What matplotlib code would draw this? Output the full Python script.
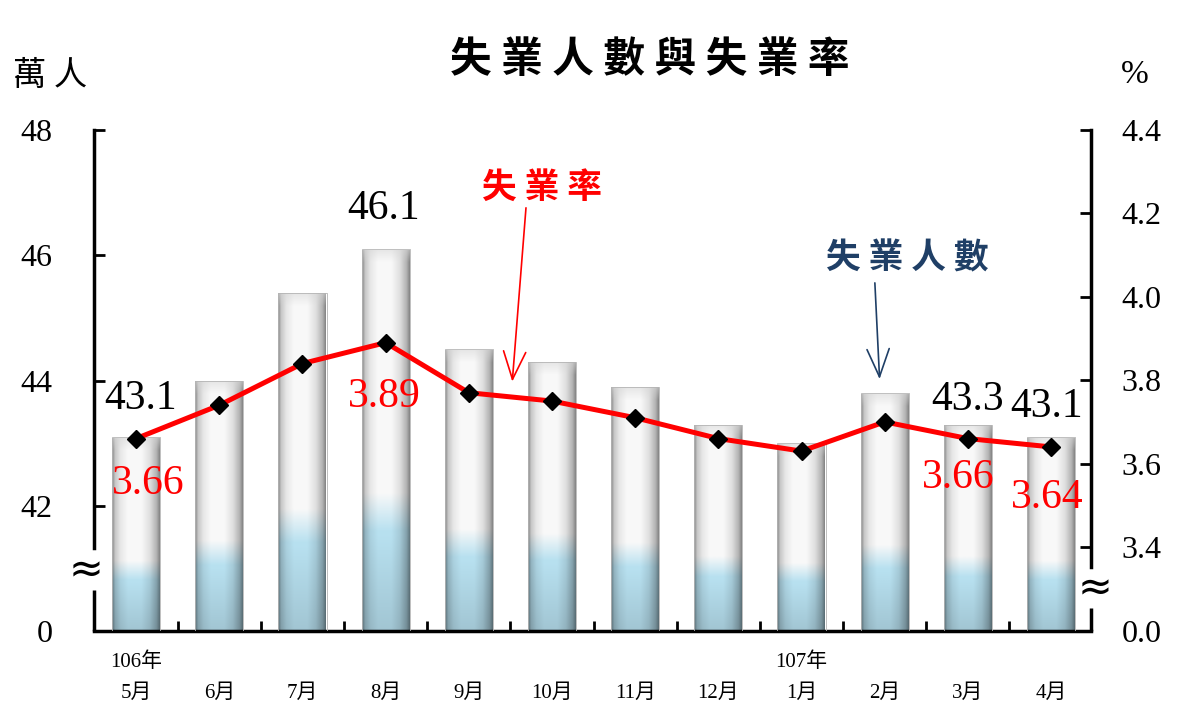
import numpy as np
import matplotlib
matplotlib.use("Agg")
import matplotlib.pyplot as plt
import matplotlib.transforms as mtransforms

plt.rcParams['font.family'] = ['Liberation Serif', 'Noto Sans CJK TC']

# data
months = ['5月', '6月', '7月', '8月', '9月', '10月', '11月', '12月',
          '1月', '2月', '3月', '4月']
unemployed = [43.1, 44.0, 45.4, 46.1, 44.5, 44.3, 43.9, 43.3, 43.0, 43.8, 43.3, 43.1]
rate = [3.66, 3.74, 3.84, 3.89, 3.77, 3.75, 3.71, 3.66, 3.63, 3.70, 3.66, 3.64]
left_ticks = [0, 42, 44, 46, 48]
right_ticks = [0.0, 3.4, 3.6, 3.8, 4.0, 4.2, 4.4]
year_labels = {0: '106年', 8: '107年'}
bar_labels = {0: '43.1', 3: '46.1', 10: '43.3', 11: '43.1'}
rate_labels = {0: '3.66', 3: '3.89', 10: '3.66', 11: '3.64'}

CJK = ['Noto Sans CJK TC', 'DejaVu Sans']

# broken axes: piecewise linear scales (break below 42 / 3.4)
L_V = [-1000, 0, 42, 48, 1000]
L_P = [-1000 * 125 / 42, 0, 125, 501, 501 + 952 * 376 / 6]
R_V = [-100, 0, 3.4, 4.4, 100]
R_P = [-100 * 84 / 3.4, 0, 84, 501, 501 + 95.6 * 417]


def l_fwd(v):
    return np.interp(v, L_V, L_P)


def l_inv(p):
    return np.interp(p, L_P, L_V)


def r_fwd(v):
    return np.interp(v, R_V, R_P)


def r_inv(p):
    return np.interp(p, R_P, R_V)


fig = plt.figure(figsize=(12, 7.22), dpi=100)
ax = fig.add_axes([94 / 1200, 1 - 631 / 722, (1091 - 94) / 1200, (631 - 130) / 722])
ax.set_yscale('function', functions=(l_fwd, l_inv))
x = np.arange(len(months))

bars = ax.bar(x, unemployed, width=0.58, facecolor='none',
              edgecolor='#b4b4b4', linewidth=0.6, zorder=3)
ax.set_xlim(-0.506, 11.48)
ax.set_ylim(0, 48)

# shaded bar fill (glossy cylinder look)
nx = 60
xs = np.linspace(0, 1, nx)
shade = np.interp(xs, [0, 0.05, 0.16, 0.32, 0.6, 0.78, 0.92, 1.0],
                  [0.6, 0.8, 0.93, 1.0, 1.0, 0.9, 0.72, 0.5])
bt = mtransforms.blended_transform_factory(ax.transData, ax.transAxes)
to_axes = ax.transAxes.inverted()
top_c = np.array([0.975, 0.975, 0.975])
blue_c = np.array([0.72, 0.88, 0.94])
for b, v in zip(bars, unemployed):
    top = to_axes.transform(ax.transData.transform((0, v)))[1]
    ny = int(top * 501)
    rel = np.linspace(0, 1, ny)
    w = np.clip((0.36 - rel) / 0.1, 0, 1)
    dark = 1 - 0.12 * np.clip((0.25 - rel) / 0.25, 0, 1)
    base = top_c[None, :] * (1 - w[:, None]) + blue_c[None, :] * w[:, None]
    base = base * dark[:, None]
    sh = np.tile(shade, (ny, 1))
    # soft bevel at the top of each bar
    k = np.clip((np.arange(ny) - (ny - 14)) / 14, 0, 1)[:, None]
    sh = sh * (1 - 0.6 * k) + 0.86 * 0.6 * k
    rgb = np.clip(base[:, None, :] * sh[:, :, None], 0, 1)
    x0 = b.get_x()
    ax.imshow(rgb, extent=(x0, x0 + b.get_width(), 0, top), origin='lower',
              transform=bt, aspect='auto', interpolation='bilinear', zorder=2)
ax.set_xlim(-0.506, 11.48)
ax.set_ylim(0, 48)

# right axis: rate
ax2 = ax.twinx()
ax2.set_yscale('function', functions=(r_fwd, r_inv))
ax2.set_ylim(0, 4.4)
ax2.plot(x, rate, color='#ff0000', lw=3.6, marker='D', ms=9,
         mfc='black', mec='black', zorder=5)

# spines
for s in ['top', 'right']:
    ax.spines[s].set_visible(False)
for s in ['top', 'left', 'bottom']:
    ax2.spines[s].set_visible(False)
ax.spines['left'].set_linewidth(2.5)
ax.spines['bottom'].set_linewidth(2.5)
ax2.spines['right'].set_linewidth(2.5)
ax.spines['left'].set_bounds(27.9, 48)
ax2.spines['right'].set_bounds(2.59, 4.4)
ax.plot([0, 0], [0, 13.8], transform=ax.get_yaxis_transform(), color='black',
        lw=2.5, clip_on=False, solid_capstyle='butt')
ax2.plot([1, 1], [0, 0.93], transform=ax2.get_yaxis_transform(), color='black',
         lw=2.5, clip_on=False, solid_capstyle='butt')
ax.text(-0.008, 20.5, '≈', transform=ax.get_yaxis_transform(), fontsize=30,
        ha='center', va='center', family='DejaVu Sans')
ax2.text(1.004, 1.74, '≈', transform=ax2.get_yaxis_transform(), fontsize=30,
         ha='center', va='center', family='DejaVu Sans')

# ticks
ax.set_yticks(left_ticks)
ax.set_yticklabels([str(t) for t in left_ticks])
ax.yaxis.set_minor_locator(matplotlib.ticker.NullLocator())
ax.tick_params(axis='y', direction='in', length=8, width=2, pad=30, labelsize=23)
ax2.set_yticks(right_ticks)
ax2.set_yticklabels(['%.1f' % t for t in right_ticks])
ax2.yaxis.set_minor_locator(matplotlib.ticker.NullLocator())
ax2.tick_params(axis='y', direction='in', length=8, width=2, pad=22, labelsize=23)

ax.set_xticks(x[:-1] + 0.5)
ax.set_xticklabels([])
ax.set_xticks(x, minor=True)
ax.set_xticklabels(months, minor=True)
ax.tick_params(axis='x', which='major', direction='in', length=7, width=2)
ax.tick_params(axis='x', which='minor', length=0, pad=38, labelsize=15)

for i, t in year_labels.items():
    ax.text(i, -0.062, t, transform=bt, ha='center', va='center', fontsize=15)

# value labels
for i, t in bar_labels.items():
    off = {0: (4, 38), 3: (-2, 40), 10: (0, 25), 11: (-5, 30)}[i]
    ax.annotate(t, (i, unemployed[i]), xytext=off, textcoords='offset pixels',
                ha='center', va='center', fontsize=30, zorder=6)
for i, t in rate_labels.items():
    off = {0: (12, -45), 3: (-1, -54), 10: (-10, -39), 11: (-4, -51)}[i]
    ax2.annotate(t, (i, rate[i]), xytext=off, textcoords='offset pixels',
                 ha='center', va='center', fontsize=30, color='#ff0000', zorder=6)

# callouts
ax2.annotate('', xy=(4.52, 3.79), xytext=(4.69, 4.22),
             arrowprops=dict(arrowstyle='->,head_length=2.0,head_width=0.8',
                             color='#ff0000', lw=1.2))
ax2.text(4.88, 4.263, '失 業 率', ha='center', va='center', fontsize=25,
         color='#ff0000', fontweight='bold', family=CJK)
ax2.annotate('', xy=(8.94, 3.796), xytext=(8.88, 4.04),
             arrowprops=dict(arrowstyle='->,head_length=2.0,head_width=0.8',
                             color='#1f3f66', lw=1.2))
ax2.text(9.27, 4.093, '失 業 人 數', ha='center', va='center', fontsize=25,
         color='#1f3f66', fontweight='bold', family=CJK)

# titles and units
fig.text(650 / 1200, 1 - 60 / 722, '失 業 人 數 與 失 業 率', ha='center', va='center',
         fontsize=30, fontweight='bold', family=CJK)
fig.text(50 / 1200, 1 - 75 / 722, '萬 人', ha='center', va='center',
         fontsize=24, family=CJK)
fig.text(1135 / 1200, 1 - 75 / 722, '%', ha='center', va='center', fontsize=24)

fig.savefig('out.png', dpi=100)
